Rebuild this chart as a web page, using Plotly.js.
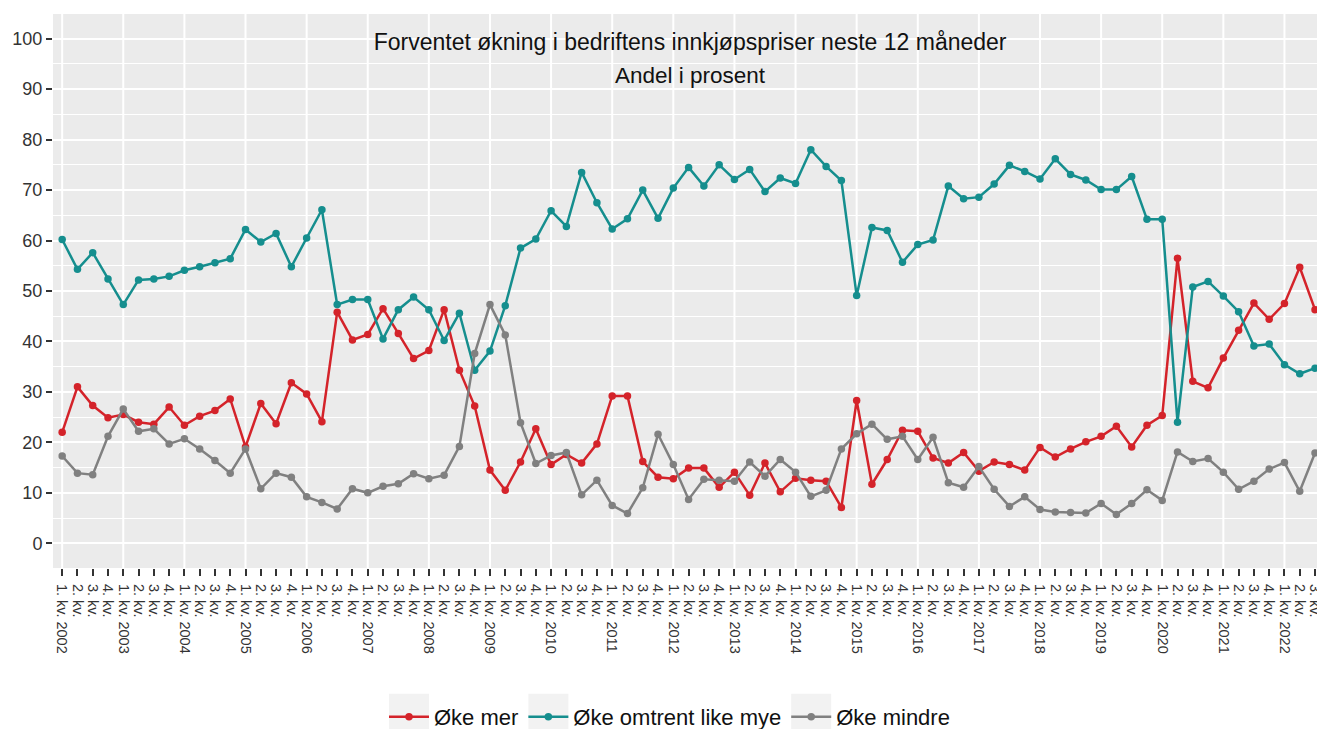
<!DOCTYPE html>
<html>
<head>
<meta charset="utf-8">
<script src="https://cdn.plot.ly/plotly-3.0.1.min.js"></script>
<style>
  html, body { margin: 0; padding: 0; background: #ffffff; }
  #chart { width: 1317px; height: 729px; }
</style>
</head>
<body>
<div id="chart"></div>
<script>
// Quarters 2002 K1 .. 2022 K3
const years = [2002, 2003, 2004, 2005, 2006, 2007, 2008, 2009, 2010, 2011, 2012,
               2013, 2014, 2015, 2016, 2017, 2018, 2019, 2020, 2021, 2022];
const quarterNames = ["1. kv.", "2. kv.", "3. kv.", "4. kv."];
const lastQuarter = 3; // data ends 3. kv. 2022

// Series (andel i prosent)
const okeMer = [
  22.0, 31.0, 27.3, 24.9, 25.5, 24.0, 23.6, 27.0, 23.4, 25.2, 26.3, 28.6, 19.1, 27.7, 23.7, 31.8, 29.6, 24.1, 45.8, 40.3,
  41.4, 46.5, 41.6, 36.6, 38.2, 46.3, 34.3, 27.2, 14.5, 10.5, 16.1, 22.7, 15.6, 17.6, 15.9, 19.7, 29.2, 29.2, 16.2, 13.1,
  12.8, 14.9, 14.9, 11.1, 14.1, 9.5, 15.9, 10.2, 12.9, 12.5, 12.3, 7.1, 28.3, 11.7, 16.6, 22.4, 22.2, 16.9, 15.9, 18.0,
  14.3, 16.1, 15.6, 14.5, 19.0, 17.1, 18.7, 20.1, 21.2, 23.2, 19.1, 23.4, 25.3, 56.5, 32.1, 30.8, 36.7, 42.2, 47.6, 44.4,
  47.5, 54.7, 46.3
];
const okeLike = [
  60.2, 54.3, 57.6, 52.4, 47.3, 52.2, 52.4, 52.9, 54.1, 54.8, 55.6, 56.4, 62.2, 59.7, 61.4, 54.8, 60.5, 66.1, 47.3, 48.3,
  48.3, 40.5, 46.3, 48.8, 46.3, 40.2, 45.6, 34.3, 38.1, 47.1, 58.5, 60.3, 65.9, 62.8, 73.5, 67.5, 62.3, 64.3, 70.0, 64.4,
  70.4, 74.5, 70.8, 75.0, 72.1, 74.1, 69.7, 72.4, 71.3, 78.0, 74.7, 71.9, 49.1, 62.6, 62.0, 55.7, 59.2, 60.1, 70.8, 68.3,
  68.6, 71.2, 74.9, 73.7, 72.2, 76.2, 73.1, 72.0, 70.1, 70.1, 72.7, 64.2, 64.2, 24.0, 50.8, 51.9, 49.0, 45.9, 39.1, 39.5,
  35.4, 33.6, 34.7
];
const okeMindre = [
  17.3, 13.9, 13.6, 21.2, 26.6, 22.2, 22.7, 19.7, 20.7, 18.7, 16.4, 13.9, 18.7, 10.8, 13.9, 13.1, 9.2, 8.1, 6.8, 10.8,
  10.0, 11.3, 11.8, 13.8, 12.8, 13.5, 19.2, 37.6, 47.3, 41.3, 23.9, 15.8, 17.4, 18.0, 9.6, 12.5, 7.5, 5.9, 11.0, 21.6,
  15.6, 8.7, 12.7, 12.5, 12.3, 16.1, 13.3, 16.6, 14.1, 9.3, 10.5, 18.7, 21.7, 23.6, 20.6, 21.2, 16.6, 21.0, 12.0, 11.1,
  15.2, 10.7, 7.3, 9.2, 6.7, 6.2, 6.1, 6.0, 7.9, 5.7, 7.9, 10.6, 8.5, 18.1, 16.2, 16.8, 14.1, 10.7, 12.3, 14.7,
  16.0, 10.3, 17.9
];

const seriesNames = ["Øke mer", "Øke omtrent like mye", "Øke mindre"];
const seriesColors = ["#D4232A", "#158E8E", "#808080"];

// Category ids and tick labels
const cats = [];
const tickText = [];
const yearStarts = [];
years.forEach((y, yi) => {
  const nq = (yi === years.length - 1) ? lastQuarter : 4;
  for (let q = 0; q < nq; q++) {
    const id = y + "K" + (q + 1);
    cats.push(id);
    tickText.push(q === 0 ? quarterNames[q] + " " + y : quarterNames[q]);
    if (q === 0) yearStarts.push(id);
  }
});

const font = "'Liberation Sans', Arial, sans-serif";
const values = [okeMer, okeLike, okeMindre];

const traces = values.map((v, k) => ({
  type: "scatter",
  mode: "lines+markers",
  name: seriesNames[k],
  x: cats,
  y: v,
  line: { color: seriesColors[k], width: 2.5 },
  marker: { color: seriesColors[k], size: 7.5 },
  hovertemplate: "%{y}<extra>" + seriesNames[k] + "</extra>"
}));

// vertical white grid lines at each year start
const shapes = yearStarts.map(id => ({
  type: "line", xref: "x", yref: "paper",
  x0: id, x1: id, y0: 0, y1: 1,
  line: { color: "#ffffff", width: 2 },
  layer: "below"
}));

const M = { l: 53, r: 0, t: 14, b: 161, autoexpand: false };
const W = 1317, H = 729;
const plotW = W - M.l - M.r, plotH = H - M.t - M.b;

const layout = {
  width: W,
  height: H,
  margin: M,
  paper_bgcolor: "#ffffff",
  plot_bgcolor: "#EBEBEB",
  font: { family: font, color: "#333333" },
  showlegend: true,
  title: {
    text: "Forventet økning i bedriftens innkjøpspriser neste 12 måneder",
    font: { family: font, size: 23, color: "#111111" },
    x: 0.524, xref: "container", xanchor: "center",
    y: 1 - 42 / H, yref: "container", yanchor: "middle"
  },
  annotations: [{
    text: "Andel i prosent",
    xref: "paper", yref: "paper",
    x: 0.504, y: (H - M.b - 75) / plotH,
    xanchor: "center", yanchor: "middle",
    showarrow: false,
    font: { family: font, size: 22.5, color: "#111111" }
  }],
  xaxis: {
    type: "category",
    range: [-0.6, 82.13],
    tickmode: "array",
    tickvals: cats,
    ticktext: tickText,
    tickangle: 90,
    tickfont: { family: font, size: 14.5, color: "#333333" },
    ticks: "outside",
    ticklen: 7,
    tickwidth: 2,
    tickcolor: "#333333",
    ticklabelstandoff: 5,
    showgrid: false,
    zeroline: false,
    showline: false,
    fixedrange: true
  },
  yaxis: {
    range: [-4.9, 104.9],
    tickmode: "linear",
    tick0: 0,
    dtick: 10,
    tickfont: { family: font, size: 18, color: "#333333" },
    ticks: "outside",
    ticklen: 6,
    tickwidth: 2,
    tickcolor: "#333333",
    showgrid: true,
    gridcolor: "#ffffff",
    gridwidth: 2,
    minor: { tick0: 0, dtick: 5, showgrid: true, gridcolor: "#ffffff", gridwidth: 1, ticks: "" },
    zeroline: false,
    showline: false,
    fixedrange: true
  },
  legend: {
    orientation: "h",
    x: (384 - M.l) / plotW, xanchor: "left",
    y: -(717 - (H - M.b)) / plotH, yanchor: "middle",
    font: { family: font, size: 22, color: "#111111" },
    bgcolor: "rgba(0,0,0,0)",
    itemwidth: 40
  },
  shapes: shapes
};

Plotly.newPlot("chart", traces, layout, { displayModeBar: false }).then(gd => {
  // light grey key backgrounds behind each legend symbol (ggplot style)
  const svgRect = gd.querySelector(".main-svg").getBoundingClientRect();
  const keyShapes = [];
  gd.querySelectorAll(".legend .traces .legendpoints").forEach(el => {
    const r = el.getBoundingClientRect();
    const cx = (r.left + r.right) / 2 - svgRect.left;
    const cy = (r.top + r.bottom) / 2 - svgRect.top;
    keyShapes.push({
      type: "rect", xref: "paper", yref: "paper", layer: "below",
      x0: (cx - 20 - M.l) / plotW, x1: (cx + 20 - M.l) / plotW,
      y0: (H - M.b - (cy + 20)) / plotH, y1: (H - M.b - (cy - 23)) / plotH,
      fillcolor: "#F2F2F2", line: { width: 0 }
    });
  });
  return Plotly.relayout(gd, { shapes: shapes.concat(keyShapes) });
});
</script>
</body>
</html>
